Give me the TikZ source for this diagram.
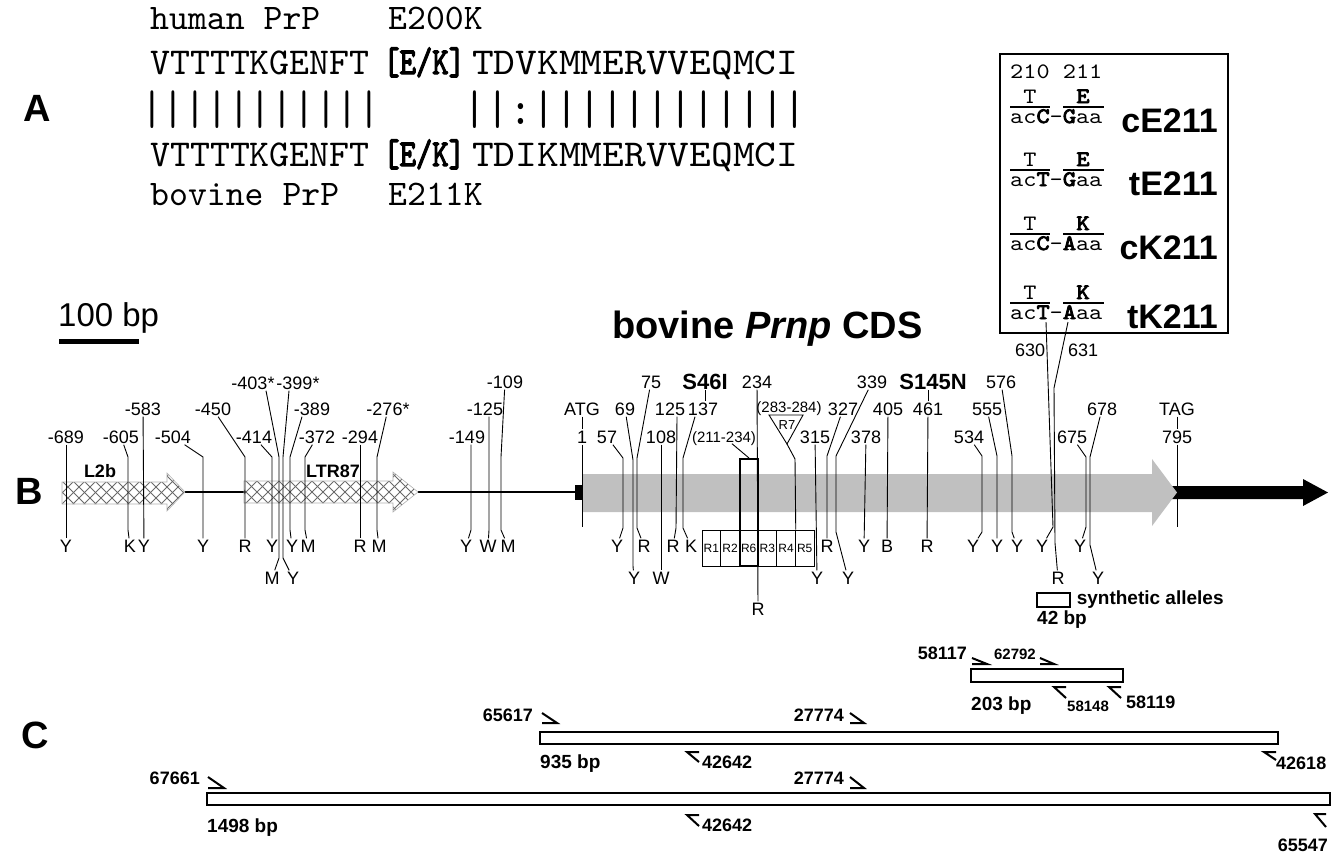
\documentclass[tikz,border=0pt]{standalone}
\usepackage{fontspec}
\setmainfont{Liberation Sans}
\setmonofont[AutoFakeBold=3.5]{lmmono10-regular.otf}
\usepackage{graphicx}
\usetikzlibrary{positioning}
\definecolor{cdsgray}{RGB}{192,192,192}
\definecolor{hatchgray}{RGB}{105,105,105}

\begin{document}
\begin{tikzpicture}[x=1pt, y=-1pt,
  num/.style={font=\fontsize{18}{18}\selectfont, inner sep=1pt, text height=13pt, text depth=0pt},
  mut/.style={font=\bfseries\fontsize{22}{22}\selectfont, inner sep=1pt, text height=16pt, text depth=0pt},
  rng/.style={font=\fontsize{15}{15}\selectfont, inner sep=1pt, text height=11pt, text depth=0pt},
  cell/.style={draw, line width=0.8pt, minimum width=18.67pt, minimum height=36pt, inner sep=0pt, font=\fontsize{12}{12}\selectfont},
  panel/.style={font=\bfseries\fontsize{38}{38}\selectfont, inner sep=0pt},
  seq/.style={font=\ttfamily\fontsize{38}{38}\selectfont, anchor=base west, inner sep=0pt},
  lab/.style={font=\ttfamily\fontsize{36}{36}\selectfont, anchor=base west, inner sep=0pt},
  codon/.style={font=\ttfamily\fontsize{22}{22}\selectfont, inner sep=0pt, text height=11pt, text depth=0pt},
  allele/.style={font=\bfseries\fontsize{34}{34}\selectfont, anchor=base east, inner sep=0pt},
  plab/.style={font=\bfseries\fontsize{18}{18}\selectfont, inner sep=1pt, text height=13pt, text depth=0pt},
  splab/.style={font=\bfseries\fontsize{15}{15}\selectfont, inner sep=1pt, text height=11pt, text depth=0pt},
  site/.style={line width=0.9pt},
  primer/.style={line width=2pt},
  amp/.style={line width=1.4pt},
  hatch/.style={hatchgray, line width=0.8pt}
]
\fill[white] (0,0) rectangle (1337,855);
\useasboundingbox (0,0) rectangle (1337,855);

\node[panel] (pA) at (37,108) {A};
\node[lab] (hum) at (150,29) {human PrP};
\node[lab] (hmut) at (388,29) {E200K};
\node[seq] (hs1) at (150,74) {VTTTTKGENFT};
\node[seq, font=\ttfamily\bfseries\fontsize{38}{38}\selectfont] (hek1) at (383,74) {\scalebox{0.82}[1]{[E/K]}};
\node[seq] (hs2) at (472,74) {\scalebox{1.09}[1]{TDVKMMERVVEQMCI}};
\node[lab] (bar1) at (141,124) {\scalebox{1.15}[1.35]{|||||||||||}};
\node[lab] (bar2) at (463.6,124) {\scalebox{1.21}[1.35]{||:||||||||||||}};
\node[seq] (bs1) at (150,166) {VTTTTKGENFT};
\node[seq, font=\ttfamily\bfseries\fontsize{38}{38}\selectfont] (hek2) at (383,166) {\scalebox{0.82}[1]{[E/K]}};
\node[seq] (bs2) at (472,166) {\scalebox{1.09}[1]{TDIKMMERVVEQMCI}};
\node[lab] (bov) at (150,205) {bovine PrP};
\node[lab] (bmut) at (388,205) {E211K};

\draw[line width=1.3pt] (1000,54) rectangle (1228,333);
\node[codon, anchor=base west] (cpos) at (1010,78) {\scalebox{1.14}[1]{210 211}};
\foreach \yy/\cb/\gb/\am/\al [count=\k] in {107/C/G/E/cE211, 170/T/G/E/tE211, 234/C/A/K/cK211, 303/T/A/K/tK211} {
  \node[codon, anchor=base] (cdT\k) at (1030,\yy-4) {\scalebox{1.14}[1]{T}};
  \node[codon, anchor=base, font=\ttfamily\bfseries\fontsize{22}{22}\selectfont] (cdA\k) at (1083,\yy-4) {\scalebox{1.14}[1]{\am}};
  \draw[line width=1.2pt] (1010,\yy) -- (1050,\yy) (1063,\yy) -- (1104,\yy);
  \node[codon, anchor=base west] (cdN\k) at (1010,\yy+16) {\scalebox{1.14}[1]{ac\textbf{\cb}-\textbf{\gb}aa}};
  \node[allele] (al\k) at (1218,\yy+25) {\al};
}
\coordinate (k630) at (1046,322);
\coordinate (k631) at (1068,322);

\node[panel] (pB) at (29,491) {B};
\node[font=\fontsize{33}{33}\selectfont, anchor=base west, inner sep=0pt] (scl) at (58,326) {100 bp};
\draw[line width=5pt] (59,341.5) -- (139,341.5);
\node[font=\bfseries\fontsize{38}{38}\selectfont, anchor=base west, inner sep=0pt] (ttl) at (612,338) {bovine \textit{Prnp} CDS};

\draw[line width=1.5pt] (185,492) -- (245,492) (418,492) -- (575,492);
\begin{scope}
  \clip (62,482) -- (167,482) -- (167,473) -- (185,492) -- (167,511) -- (167,504) -- (62,504) -- cycle;
  \foreach \i in {0,11,...,154} {
    \draw[hatch] (40+\i,470) -- ++(45,45);
    \draw[hatch] (40+\i,515) -- ++(45,-45);
  }
\end{scope}
\draw[gray!60, line width=0.6pt] (62,482) -- (167,482) -- (167,473) -- (185,492) -- (167,511) -- (167,504) -- (62,504) -- cycle;
\begin{scope}
  \clip (244,481) -- (393,481) -- (393,472) -- (418,492) -- (393,512) -- (393,503) -- (244,503) -- cycle;
  \foreach \i in {0,11,...,198} {
    \draw[hatch] (222+\i,468) -- ++(48,48);
    \draw[hatch] (222+\i,516) -- ++(48,-48);
  }
\end{scope}
\draw[gray!60, line width=0.6pt] (244,481) -- (393,481) -- (393,472) -- (418,492) -- (393,512) -- (393,503) -- (244,503) -- cycle;
\node[font=\bfseries\fontsize{18}{18}\selectfont] (l2b) at (100,471) {L2b};
\node[font=\bfseries\fontsize{18}{18}\selectfont] (ltr) at (333,471) {LTR87};

\fill (575,485) rectangle (582,500);
\fill (1170,486) -- (1303,486) -- (1303,479) -- (1328,492.5) -- (1303,506) -- (1303,499) -- (1170,499) -- cycle;
\fill[cdsgray] (582,474) -- (1152,474) -- (1152,459) -- (1177,492.5) -- (1152,526) -- (1152,512) -- (582,512) -- cycle;

\foreach \r [count=\i] in {R1,R2,R6,R3,R4,R5}
  \node[cell] (c\r) at (702+18.67*\i-9.33,548) {\r};
\node[draw, line width=2pt, minimum width=18pt, minimum height=107pt, inner sep=0pt] (r6ext) at (749,512.5) {};

\node[num] (t689) at (66,437) {-689};
\node[num] (b689) at (66,546) {Y};
\node[num] (t605) at (121,437) {-605};
\node[num] (b605) at (130,546) {K};
\node[num] (t583) at (143,409) {-583};
\node[num] (b583) at (144,546) {Y};
\node[num] (t504) at (173,437) {-504};
\node[num] (b504) at (203,546) {Y};
\node[num] (t450) at (213,409) {-450};
\node[num] (b450) at (245,546) {R};
\node[num] (t414) at (254,437) {-414};
\node[num] (b414) at (272,546) {Y};
\node[num] (t403) at (253,383) {-403*};
\node[num] (b403) at (272,578) {M};
\node[num] (t399) at (298,383) {-399*};
\node[num] (b399) at (293,578) {Y};
\node[num] (t389) at (312,409) {-389};
\node[num] (b389) at (292,546) {Y};
\node[num] (t372) at (317,437) {-372};
\node[num] (b372) at (308,546) {M};
\node[num] (t294) at (360,437) {-294};
\node[num] (b294) at (360,546) {R};
\node[num] (t276) at (388,409) {-276*};
\node[num] (b276) at (379,546) {M};
\node[num] (t149) at (467,437) {-149};
\node[num] (b149) at (466,546) {Y};
\node[num] (t125u) at (485,409) {-125};
\node[num] (b125u) at (488,546) {W};
\node[num] (t109) at (505,382) {-109};
\node[num] (b109) at (508,546) {M};

\node[num] (tATG) at (582,409) {ATG};
\node[num] (t1) at (582,437) {1};
\coordinate (e1) at (582,527);
\node[num] (t57) at (607,437) {57};
\node[num] (b57) at (617,546) {Y};
\node[num] (t69) at (625,409) {69};
\node[num] (b69) at (634,578) {Y};
\node[num] (t75) at (651,382) {75};
\node[num] (b75) at (644,546) {R};
\node[num] (t108) at (661,437) {108};
\node[num] (b108) at (661,578) {W};
\node[num] (t125) at (670,409) {125};
\node[num] (b125) at (673,546) {R};
\node[num] (t137) at (703,409) {137};
\node[num] (b137) at (691,546) {K};
\node[mut] (tS46I) at (705,381) {S46I};
\node[num] (t234) at (757,382) {234};
\node[num] (b234) at (758,609) {R};
\node[rng] (t211) at (724,437) {(211-234)};
\node[rng] (t283) at (789,407) {(283-284)};
\draw[line width=0.9pt] (769,415) -- (803,415) -- (787,444) -- cycle;
\node[font=\fontsize{13}{13}\selectfont, inner sep=0pt] (r7) at (787,425) {R7};
\coordinate (r7tip) at (787,444);
\node[num] (t315) at (815,437) {315};
\node[num] (b315) at (817,578) {Y};
\node[num] (t327) at (843,409) {327};
\node[num] (b327) at (827,546) {R};
\node[num] (t339) at (872,382) {339};
\node[num] (b339) at (848,578) {Y};
\node[num] (t378) at (866,437) {378};
\node[num] (b378) at (864,546) {Y};
\node[num] (t405) at (888,409) {405};
\node[num] (b405) at (887,546) {B};
\node[mut] (tS145N) at (933,381) {S145N};
\node[num] (t461) at (928,409) {461};
\node[num] (b461) at (927,546) {R};
\node[num] (t534) at (969,437) {534};
\node[num] (b534) at (973,546) {Y};
\node[num] (t555) at (987,409) {555};
\node[num] (b555) at (997,546) {Y};
\node[num] (t576) at (1001,382) {576};
\node[num] (b576) at (1017,546) {Y};
\node[num] (l630) at (1030,350) {630};
\node[num] (l631) at (1083,350) {631};
\node[num] (b630) at (1042,546) {Y};
\node[num] (b631) at (1058,578) {R};
\node[num] (t675) at (1072,437) {675};
\node[num] (b675) at (1080,546) {Y};
\node[num] (t678) at (1102,409) {678};
\node[num] (b678) at (1098,578) {Y};
\node[num] (tTAG) at (1177,409) {TAG};
\node[num] (t795) at (1177,437) {795};
\coordinate (e795) at (1177,527);

\draw[site] (t689) -- (b689);
\draw[site] (t605) -- (128,457) -- (128,530) -- (b605);
\draw[site] (t583) -- (b583);
\draw[site] (t504) -- (203,457) -- (203,530) -- (b504);
\draw[site] (t450) -- (245,457) -- (245,530) -- (b450);
\draw[site] (t414) -- (272,457) -- (b414);
\draw[site] ([xshift=13pt]t403.south) -- (279,457) -- (279,558) -- (b403);
\draw[site] ([xshift=-9pt]t399.south) -- (283,457) -- (283,558) -- (b399);
\draw[site] ([xshift=-10pt]t389.south) -- (290,457) -- (290,530) -- (b389);
\draw[site] (t372) -- (305,457) -- (305,530) -- (b372);
\draw[site] (t294) -- (b294);
\draw[site] (t276) -- (377,457) -- (377,530) -- (b276);
\draw[site] ([xshift=4pt]t149.south) -- (471,530) -- (b149);
\draw[site] ([xshift=4pt]t125u.south) -- (489,530) -- (b125u);
\draw[site] (t109) -- (501,457) -- (501,530) -- (b109);
\draw[site] (tATG) -- (t1);
\draw[site] (t1) -- (e1);
\draw[site] (t57) -- (623,458) -- (623,528) -- (b57);
\draw[site] (t69) -- (633,460) -- (633,566) -- (b69);
\draw[site] (t75) -- (637,458) -- (637,528) -- (b75);
\draw[site] (t108) -- (b108);
\draw[site] ([xshift=7pt]t125.south) -- (676,528) -- (b125);
\draw[site] ([xshift=-8pt]t137.south) -- (683,458) -- (683,528) -- (b137);
\draw[site] (tS46I.south) -- (tS46I.south |- t137.north);
\draw[site] (t234) -- (b234);
\draw[site] (t211) -- (r6ext.north);
\draw[site] (r7tip) -- (795,459) -- (cR4.north east);
\draw[site] (t315) -- (b315);
\draw[site] (t327) -- (827,456) -- (827,530) -- (b327);
\draw[site] (t339) -- (836,456) -- (836,532) -- (b339);
\draw[site] (t378) -- (b378);
\draw[site] (t405) -- (b405);
\draw[site] (t461) -- (b461);
\draw[site] (t461.north) -- (t461.north |- tS145N.south);
\draw[site] (t534) -- (982,456) -- (982,532) -- (b534);
\draw[site] (t555) -- (997,456) -- (b555);
\draw[site] (t576) -- (1012,456) -- (1012,532) -- (b576);
\draw[site] (k630) -- (1053,527) -- (b630);
\draw[site] (k631) -- (1054,388) -- (1055,543) -- (b631);
\draw[site] (t675) -- (1086,457) -- (1086,527) -- (b675);
\draw[site] (t678) -- (1090,457) -- (1090,545) -- (b678);
\draw[site] (tTAG) -- (t795);
\draw[site] (t795) -- (e795);

\node[draw, line width=1.2pt, minimum width=33pt, minimum height=14pt, inner sep=0pt] (leg) at (1053.5,600) {};
\node[font=\bfseries\fontsize{19}{19}\selectfont, anchor=west, inner sep=0pt, right=6pt of leg] (legt) {synthetic alleles};
\node[font=\bfseries\fontsize{19}{19}\selectfont, anchor=north west, inner sep=0pt] (legbp) at (1037,611) {42 bp};

\node[panel] (pC) at (35,735) {C};
\draw[amp] (971,669) rectangle (1123,682);
\draw[amp] (540,732) rectangle (1278,744);
\draw[amp] (207,793) rectangle (1330,805);

\node[plab, anchor=east] (p58117) at (968,653) {58117};
\node[splab, anchor=east] (p62792) at (1037,654) {62792};
\node[plab, anchor=west, font=\bfseries\fontsize{19}{19}\selectfont] (s203) at (970,704) {203 bp};
\node[splab, anchor=west] (p58148) at (1066,706) {58148};
\node[plab, anchor=west] (p58119) at (1125,702) {58119};
\draw[primer] (972,658) -- ++(15,6) -- ++(-15,0);
\draw[primer] (1040,658) -- ++(14,6) -- ++(-14,0);
\draw[primer] (1066,687) -- ++(-12,0) -- ++(12,11);
\draw[primer] (1121,687) -- ++(-12,0) -- ++(12,11);

\node[plab, anchor=east] (p65617) at (534,715) {65617};
\node[plab, anchor=east] (p27774a) at (845,715) {27774};
\node[plab, anchor=west, font=\bfseries\fontsize{19}{19}\selectfont] (s935) at (539,762) {935 bp};
\node[plab, anchor=west] (p42642a) at (701,762) {42642};
\node[plab, anchor=west] (p42618) at (1275,763) {42618};
\draw[primer] (542,713) -- ++(15,10) -- ++(-15,0);
\draw[primer] (850,713) -- ++(14,10) -- ++(-14,0);
\draw[primer] (699,752) -- ++(-12,0) -- ++(12,10);
\draw[primer] (1276,752) -- ++(-12,0) -- ++(12,8);

\node[plab, anchor=east] (p67661) at (201,778) {67661};
\node[plab, anchor=east] (p27774b) at (845,778) {27774};
\node[plab, anchor=west, font=\bfseries\fontsize{19}{19}\selectfont] (s1498) at (206,826) {1498 bp};
\node[plab, anchor=west] (p42642b) at (701,825) {42642};
\node[plab, anchor=east] (p65547) at (1329,845) {65547};
\draw[primer] (208,777) -- ++(16,11) -- ++(-16,0);
\draw[primer] (850,777) -- ++(14,11) -- ++(-14,0);
\draw[primer] (699,815) -- ++(-12,0) -- ++(12,11);
\draw[primer] (1326,814) -- ++(-11,0) -- ++(11,13);
\end{tikzpicture}
\end{document}
